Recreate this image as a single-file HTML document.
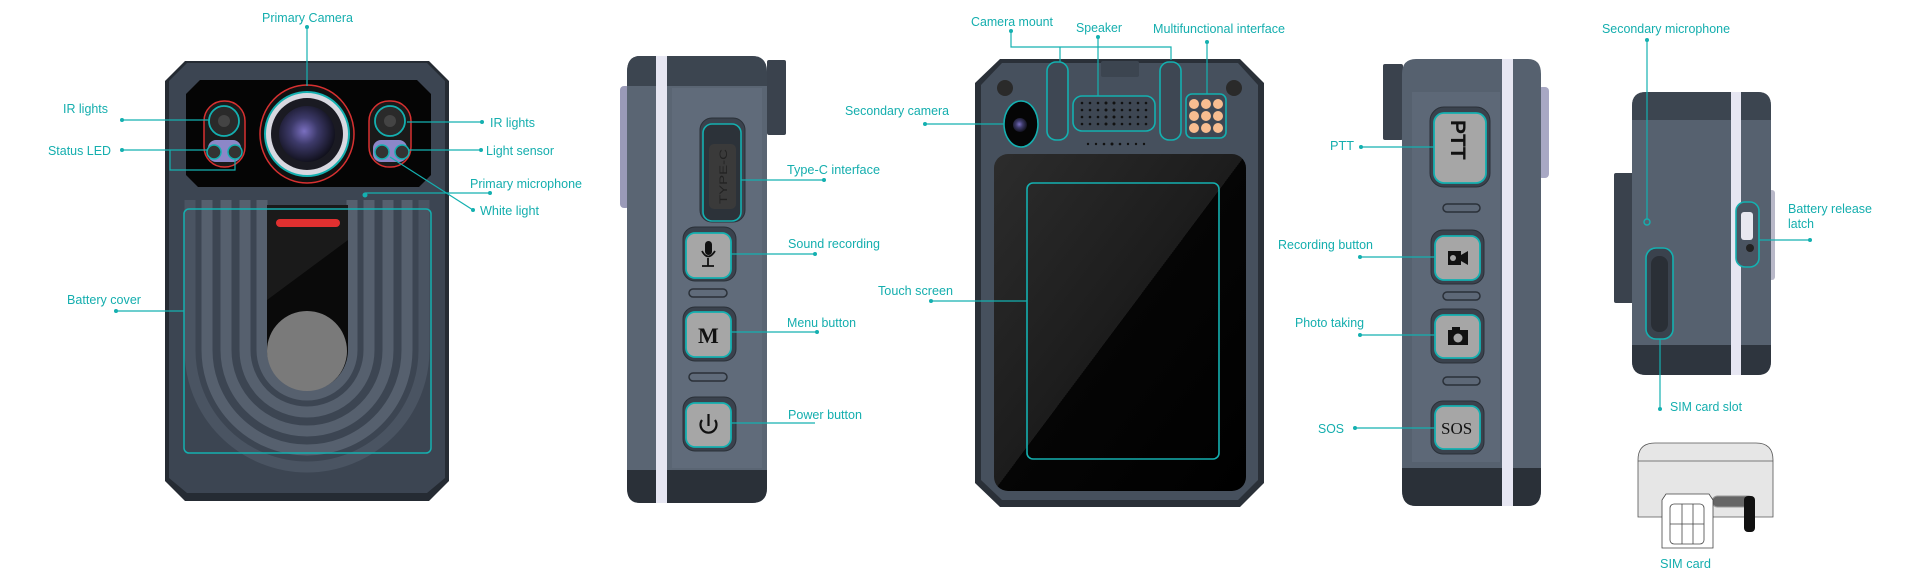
<!DOCTYPE html>
<html><head><meta charset="utf-8"><style>
html,body{margin:0;padding:0;background:#fff;}
svg{display:block}
text{font-family:"Liberation Sans",sans-serif;font-size:13px;fill:#14aeae;}
</style></head><body>
<svg width="1920" height="580" viewBox="0 0 1920 580" xmlns="http://www.w3.org/2000/svg">
<defs>
<linearGradient id="bodyH" x1="0" x2="1" y1="0" y2="0">
<stop offset="0" stop-color="#2e353e"/><stop offset="0.08" stop-color="#4a5461"/><stop offset="0.92" stop-color="#4a5461"/><stop offset="1" stop-color="#2a3038"/></linearGradient>
<linearGradient id="side" x1="0" x2="1"><stop offset="0" stop-color="#3c4550"/><stop offset="0.5" stop-color="#5a6472"/><stop offset="1" stop-color="#3c4550"/></linearGradient>
<radialGradient id="lens" cx="0.45" cy="0.45" r="0.6"><stop offset="0" stop-color="#7a6fc0"/><stop offset="0.4" stop-color="#3d3a6a"/><stop offset="1" stop-color="#0c0c14"/></radialGradient>
<linearGradient id="scr" x1="0" y1="0" x2="1" y2="1"><stop offset="0" stop-color="#2c2c2c"/><stop offset="0.5" stop-color="#1c1c1c"/><stop offset="0.5" stop-color="#050505"/><stop offset="1" stop-color="#000"/></linearGradient>
</defs>
<g stroke="#14b0b0" stroke-width="1.3" fill="none">
</g>

<!-- ========== DEVICE 1 FRONT ========== -->
<path d="M185 61 H429 L449 81 V481 L429 501 H185 L165 481 V81 Z" fill="#252b33"/>
<path d="M187 63 H427 L445 81 V478 L427 493 H187 L169 478 V81 Z" fill="#3c4552"/>
<path d="M200 80 H417 L431 94 V175 L419 187 H198 L186 175 V94 Z" fill="#050505"/>
<!-- U ridges -->
<g fill="none" stroke="#56606e" stroke-width="11">
<path d="M207 200 V350 A100 100 0 0 0 407 350 V200"/>
<path d="M226 200 V350 A81 81 0 0 0 388 350 V200"/>
<path d="M245 200 V350 A62 62 0 0 0 369 350 V200"/>
<path d="M262 200 V350 A45 45 0 0 0 352 350 V200"/>
<path d="M190 200 V350 A117 117 0 0 0 424 350 V200" stroke="#4a5462"/>
</g>
<path d="M267 205 H348 V350 A40 40 0 0 1 267 350 Z" fill="#0a0a0a"/>
<path d="M267 205 H348 V240 L267 300 Z" fill="#1a1a1a"/>
<rect x="276" y="219" width="64" height="8" rx="4" fill="#e03030"/>
<circle cx="307" cy="351" r="40" fill="#7a7a7a"/>
<!-- lights -->
<rect x="204" y="101" width="41" height="66" rx="20" fill="#1a1a1a" stroke="#d83030" stroke-width="1.5"/>
<rect x="208" y="140" width="33" height="22" rx="8" fill="#8c87c8"/>
<circle cx="224" cy="121" r="15" fill="#2a2a2a" stroke="#14b0b0" stroke-width="1.8"/>
<circle cx="224" cy="121" r="6" fill="#444"/>
<circle cx="214" cy="152" r="7" fill="#333" stroke="#14b0b0" stroke-width="1.5"/>
<circle cx="235" cy="152" r="7" fill="#333" stroke="#14b0b0" stroke-width="1.5"/>
<rect x="369" y="101" width="42" height="66" rx="20" fill="#1a1a1a" stroke="#d83030" stroke-width="1.5"/>
<rect x="373" y="140" width="34" height="22" rx="8" fill="#8c87c8"/>
<circle cx="390" cy="121" r="15" fill="#2a2a2a" stroke="#14b0b0" stroke-width="1.8"/>
<circle cx="390" cy="121" r="6" fill="#444"/>
<circle cx="382" cy="152" r="7" fill="#333" stroke="#14b0b0" stroke-width="1.5"/>
<circle cx="402" cy="152" r="7" fill="#333" stroke="#14b0b0" stroke-width="1.5"/>
<ellipse cx="307" cy="134" rx="47" ry="49" fill="#111" stroke="#d83030" stroke-width="1.5"/>
<circle cx="307" cy="134" r="42" fill="#d8d8e0" stroke="#14b0b0" stroke-width="2"/>
<circle cx="307" cy="134" r="36" fill="#1a1a22"/>
<circle cx="307" cy="134" r="28" fill="url(#lens)"/>
<rect x="184" y="209" width="247" height="244" rx="5" fill="none" stroke="#14b0b0" stroke-width="1.5"/>
<!-- device1 labels -->
<g stroke="#14b0b0" stroke-width="1.2" fill="none">
<path d="M307 27 V86"/><path d="M122 120 H209"/><path d="M122 150 H207"/>
<path d="M170 150 V170 H235 V159"/><path d="M407 122 H482"/><path d="M408 150 H481"/>
<path d="M365 193 H490"/><path d="M390 157 L473 210"/><path d="M116 311 H184"/>
</g>
<g fill="#14b0b0"><circle cx="307" cy="27" r="2"/><circle cx="122" cy="120" r="2"/><circle cx="122" cy="150" r="2"/><circle cx="482" cy="122" r="2"/><circle cx="481" cy="150" r="2"/><circle cx="365" cy="195" r="2.5"/><circle cx="490" cy="193" r="2"/><circle cx="473" cy="210" r="2"/><circle cx="116" cy="311" r="2"/></g>
<text x="262" y="22" textLength="91" lengthAdjust="spacingAndGlyphs">Primary Camera</text>
<text x="63" y="113" textLength="45" lengthAdjust="spacingAndGlyphs">IR lights</text>
<text x="48" y="155" textLength="63" lengthAdjust="spacingAndGlyphs">Status LED</text>
<text x="490" y="127" textLength="45" lengthAdjust="spacingAndGlyphs">IR lights</text>
<text x="486" y="155" textLength="68" lengthAdjust="spacingAndGlyphs">Light sensor</text>
<text x="470" y="188" textLength="112" lengthAdjust="spacingAndGlyphs">Primary microphone</text>
<text x="480" y="215" textLength="59" lengthAdjust="spacingAndGlyphs">White light</text>
<text x="67" y="304" textLength="74" lengthAdjust="spacingAndGlyphs">Battery cover</text>

<!-- ========== DEVICE 2 SIDE ========== -->
<rect x="620" y="86" width="10" height="122" rx="4" fill="#9a9ab8"/>
<rect x="767" y="60" width="19" height="75" rx="2" fill="#3a424d"/>
<path d="M640 56 H752 Q767 56 767 72 V488 Q767 503 752 503 H640 Q627 503 627 488 V72 Q627 56 640 56 Z" fill="#5a6573"/>
<rect x="672" y="88" width="90" height="380" fill="#606b7a"/>
<path d="M627 470 H767 V488 Q767 503 752 503 H640 Q627 503 627 488 Z" fill="#2a3038"/>
<path d="M640 56 H752 Q767 56 767 72 V86 H627 V72 Q627 56 640 56 Z" fill="#3c4550"/>
<rect x="656" y="56" width="11" height="447" fill="#e6e6f2"/>
<rect x="700" y="118" width="45" height="104" rx="12" fill="#3a424d" stroke="#2a3038"/>
<rect x="703" y="124" width="38" height="97" rx="9" fill="#2c3239" stroke="#14b0b0" stroke-width="1.6"/>
<rect x="709" y="144" width="27" height="65" rx="5" fill="#3a3a3a"/>
<text x="0" y="0" transform="translate(727 204) rotate(-90)" style="font-size:11px;fill:#222" textLength="55" lengthAdjust="spacingAndGlyphs">TYPE-C</text>
<g>
<rect x="683" y="227" width="53" height="54" rx="12" fill="#3a424d" stroke="#2a3038"/>
<rect x="686" y="233" width="45" height="45" rx="9" fill="#a6a6a6" stroke="#14b0b0" stroke-width="1.8"/>
<rect x="705" y="241" width="7" height="14" rx="3.5" fill="#111"/><path d="M702 251 Q708 262 715 251 M708 258 V266 M702 266 H714" stroke="#111" stroke-width="1.8" fill="none"/>
<rect x="689" y="289" width="38" height="8" rx="4" fill="none" stroke="#2a3038" stroke-width="1.5"/>
<rect x="683" y="307" width="53" height="54" rx="12" fill="#3a424d" stroke="#2a3038"/>
<rect x="686" y="312" width="45" height="45" rx="9" fill="#a6a6a6" stroke="#14b0b0" stroke-width="1.8"/>
<text x="698" y="343" style="font-family:'Liberation Serif',serif;font-size:22px;font-weight:bold;fill:#111">M</text>
<rect x="689" y="373" width="38" height="8" rx="4" fill="none" stroke="#2a3038" stroke-width="1.5"/>
<rect x="683" y="397" width="53" height="54" rx="12" fill="#3a424d" stroke="#2a3038"/>
<rect x="686" y="403" width="45" height="44" rx="9" fill="#a6a6a6" stroke="#14b0b0" stroke-width="1.8"/>
<path d="M702 420 A8 8 0 1 0 715 420" stroke="#111" stroke-width="2.2" fill="none"/><path d="M708.5 414 V426" stroke="#111" stroke-width="2.2"/>
</g>
<g stroke="#14b0b0" stroke-width="1.2" fill="none"><path d="M741 180 H824"/><path d="M731 254 H815"/><path d="M731 332 H817"/><path d="M731 423 H815"/></g>
<g fill="#14b0b0"><circle cx="824" cy="180" r="2"/><circle cx="815" cy="254" r="2"/><circle cx="817" cy="332" r="2"/></g>
<text x="787" y="174" textLength="93" lengthAdjust="spacingAndGlyphs">Type-C interface</text>
<text x="788" y="248" textLength="92" lengthAdjust="spacingAndGlyphs">Sound recording</text>
<text x="787" y="327" textLength="69" lengthAdjust="spacingAndGlyphs">Menu button</text>
<text x="788" y="419" textLength="74" lengthAdjust="spacingAndGlyphs">Power button</text>

<!-- ========== DEVICE 3 BACK ========== -->
<path d="M1000 59 H1240 L1264 83 V483 L1240 507 H1000 L975 483 V83 Z" fill="#2a3038"/>
<path d="M1002 63 H1238 L1258 85 V480 L1238 500 H1002 L981 480 V85 Z" fill="#46505d"/>
<rect x="1101" y="61" width="38" height="16" rx="2" fill="#3c4550"/>
<rect x="994" y="154" width="252" height="337" rx="14" fill="url(#scr)"/>
<rect x="1027" y="183" width="192" height="276" rx="6" fill="none" stroke="#14b0b0" stroke-width="1.6"/>
<circle cx="1005" cy="88" r="8" fill="#2a2a2a"/><circle cx="1234" cy="88" r="8" fill="#2a2a2a"/>
<ellipse cx="1021" cy="124" rx="17" ry="23" fill="#050505" stroke="#14b0b0" stroke-width="1.6"/>
<circle cx="1020" cy="125" r="7" fill="url(#lens)"/>
<rect x="1047" y="62" width="21" height="78" rx="9" fill="#3e4753" stroke="#14b0b0" stroke-width="1.6"/>
<rect x="1160" y="62" width="21" height="78" rx="9" fill="#3e4753" stroke="#14b0b0" stroke-width="1.6"/>
<rect x="1073" y="96" width="82" height="35" rx="9" fill="#3e4753" stroke="#14b0b0" stroke-width="1.6"/>
<g fill="#111">
<circle cx="1082" cy="103" r="1.3"/><circle cx="1090" cy="103" r="1.3"/><circle cx="1098" cy="103" r="1.3"/><circle cx="1106" cy="103" r="1.5"/><circle cx="1114" cy="103" r="1.5"/><circle cx="1122" cy="103" r="1.3"/><circle cx="1130" cy="103" r="1.3"/><circle cx="1138" cy="103" r="1.3"/><circle cx="1146" cy="103" r="1.3"/>
<circle cx="1082" cy="110" r="1.3"/><circle cx="1090" cy="110" r="1.3"/><circle cx="1098" cy="110" r="1.3"/><circle cx="1106" cy="110" r="1.5"/><circle cx="1114" cy="110" r="1.5"/><circle cx="1122" cy="110" r="1.3"/><circle cx="1130" cy="110" r="1.3"/><circle cx="1138" cy="110" r="1.3"/><circle cx="1146" cy="110" r="1.3"/>
<circle cx="1082" cy="117" r="1.3"/><circle cx="1090" cy="117" r="1.3"/><circle cx="1098" cy="117" r="1.3"/><circle cx="1106" cy="117" r="1.5"/><circle cx="1114" cy="117" r="1.5"/><circle cx="1122" cy="117" r="1.3"/><circle cx="1130" cy="117" r="1.3"/><circle cx="1138" cy="117" r="1.3"/><circle cx="1146" cy="117" r="1.3"/>
<circle cx="1082" cy="124" r="1.3"/><circle cx="1090" cy="124" r="1.3"/><circle cx="1098" cy="124" r="1.3"/><circle cx="1106" cy="124" r="1.5"/><circle cx="1114" cy="124" r="1.5"/><circle cx="1122" cy="124" r="1.3"/><circle cx="1130" cy="124" r="1.3"/><circle cx="1138" cy="124" r="1.3"/><circle cx="1146" cy="124" r="1.3"/>
<circle cx="1088" cy="144" r="1.2"/><circle cx="1096" cy="144" r="1.2"/><circle cx="1104" cy="144" r="1.3"/><circle cx="1112" cy="144" r="1.5"/><circle cx="1120" cy="144" r="1.3"/><circle cx="1128" cy="144" r="1.2"/><circle cx="1136" cy="144" r="1.2"/><circle cx="1144" cy="144" r="1.2"/>
</g>
<rect x="1186" y="94" width="40" height="44" rx="6" fill="#3e4753" stroke="#14b0b0" stroke-width="1.6"/>
<g fill="#f8bd90">
<circle cx="1194" cy="104" r="5"/><circle cx="1206" cy="104" r="5"/><circle cx="1218" cy="104" r="5"/>
<circle cx="1194" cy="116" r="5"/><circle cx="1206" cy="116" r="5"/><circle cx="1218" cy="116" r="5"/>
<circle cx="1194" cy="128" r="5"/><circle cx="1206" cy="128" r="5"/><circle cx="1218" cy="128" r="5"/>
</g>
<g stroke="#14b0b0" stroke-width="1.2" fill="none">
<path d="M1011 31 V47 H1171 V60"/><path d="M1060 47 V62"/><path d="M1098 37 V96"/><path d="M1207 42 V94"/>
<path d="M925 124 H1004"/><path d="M931 301 H1027"/>
</g>
<g fill="#14b0b0"><circle cx="1011" cy="31" r="2"/><circle cx="1098" cy="37" r="2"/><circle cx="1207" cy="42" r="2"/><circle cx="925" cy="124" r="2"/><circle cx="931" cy="301" r="2"/></g>
<text x="971" y="26" textLength="82" lengthAdjust="spacingAndGlyphs">Camera mount</text>
<text x="1076" y="32" textLength="46" lengthAdjust="spacingAndGlyphs">Speaker</text>
<text x="1153" y="33" textLength="132" lengthAdjust="spacingAndGlyphs">Multifunctional interface</text>
<text x="845" y="115" textLength="104" lengthAdjust="spacingAndGlyphs">Secondary camera</text>
<text x="878" y="295" textLength="75" lengthAdjust="spacingAndGlyphs">Touch screen</text>

<!-- ========== DEVICE 4 SIDE ========== -->
<rect x="1383" y="64" width="20" height="76" rx="2" fill="#3a424d"/>
<rect x="1538" y="87" width="11" height="91" rx="4" fill="#a8a8c4"/>
<path d="M1416 59 H1528 Q1541 59 1541 74 V490 Q1541 506 1528 506 H1416 Q1402 506 1402 490 V74 Q1402 59 1416 59 Z" fill="#56616f"/>
<rect x="1412" y="92" width="88" height="370" fill="#5d6877"/>
<path d="M1402 468 H1541 V490 Q1541 506 1528 506 H1416 Q1402 506 1402 490 Z" fill="#2a3038"/>
<rect x="1502" y="59" width="11" height="447" fill="#e6e6f2"/>
<rect x="1430" y="107" width="60" height="80" rx="14" fill="#3a424d" stroke="#2a3038"/>
<rect x="1434" y="113" width="52" height="70" rx="10" fill="#a6a6a6" stroke="#14b0b0" stroke-width="1.8"/>
<text x="0" y="0" transform="translate(1451 120) rotate(90)" style="font-size:21px;font-weight:bold;fill:#111">PTT</text>
<rect x="1443" y="204" width="37" height="8" rx="4" fill="none" stroke="#2a3038" stroke-width="1.5"/>
<rect x="1431" y="230" width="53" height="54" rx="12" fill="#3a424d" stroke="#2a3038"/>
<rect x="1435" y="236" width="45" height="44" rx="9" fill="#a6a6a6" stroke="#14b0b0" stroke-width="1.8"/>
<rect x="1448" y="251" width="13" height="14" fill="#111"/><path d="M1461 255 L1468 251 V265 L1461 261 Z" fill="#111"/><circle cx="1453" cy="258" r="3" fill="#a6a6a6"/>
<rect x="1443" y="292" width="37" height="8" rx="4" fill="none" stroke="#2a3038" stroke-width="1.5"/>
<rect x="1431" y="309" width="53" height="54" rx="12" fill="#3a424d" stroke="#2a3038"/>
<rect x="1435" y="315" width="45" height="43" rx="9" fill="#a6a6a6" stroke="#14b0b0" stroke-width="1.8"/>
<rect x="1448" y="330" width="20" height="15" fill="#111"/><rect x="1452" y="327" width="8" height="4" fill="#111"/><circle cx="1458" cy="338" r="4.5" fill="#a6a6a6"/>
<rect x="1443" y="377" width="37" height="8" rx="4" fill="none" stroke="#2a3038" stroke-width="1.5"/>
<rect x="1431" y="401" width="53" height="53" rx="12" fill="#3a424d" stroke="#2a3038"/>
<rect x="1435" y="406" width="45" height="43" rx="9" fill="#a6a6a6" stroke="#14b0b0" stroke-width="1.8"/>
<text x="1441" y="434" style="font-family:'Liberation Serif',serif;font-size:17px;fill:#111">SOS</text>
<g stroke="#14b0b0" stroke-width="1.2" fill="none"><path d="M1361 147 H1434"/><path d="M1360 257 H1435"/><path d="M1360 335 H1435"/><path d="M1355 428 H1435"/></g>
<g fill="#14b0b0"><circle cx="1361" cy="147" r="2"/><circle cx="1360" cy="257" r="2"/><circle cx="1360" cy="335" r="2"/><circle cx="1355" cy="428" r="2"/></g>
<text x="1330" y="150" textLength="24" lengthAdjust="spacingAndGlyphs">PTT</text>
<text x="1278" y="249" textLength="95" lengthAdjust="spacingAndGlyphs">Recording button</text>
<text x="1295" y="327" textLength="69" lengthAdjust="spacingAndGlyphs">Photo taking</text>
<text x="1318" y="433" textLength="26" lengthAdjust="spacingAndGlyphs">SOS</text>

<!-- ========== DEVICE 5 ========== -->
<rect x="1614" y="173" width="20" height="130" rx="2" fill="#3a424d"/>
<rect x="1767" y="190" width="8" height="90" rx="3" fill="#b8b8c8"/>
<path d="M1646 92 H1758 Q1771 92 1771 106 V361 Q1771 375 1758 375 H1646 Q1632 375 1632 361 V106 Q1632 92 1646 92 Z" fill="#56616f"/>
<path d="M1646 92 H1758 Q1771 92 1771 106 V120 H1632 V106 Q1632 92 1646 92 Z" fill="#3c4550"/>
<path d="M1632 345 H1771 V361 Q1771 375 1758 375 H1646 Q1632 375 1632 361 Z" fill="#2e353e"/>
<rect x="1731" y="92" width="10" height="283" fill="#e6e6f2"/>
<rect x="1646" y="248" width="27" height="91" rx="10" fill="#3a424d" stroke="#14b0b0" stroke-width="1.6"/>
<rect x="1651" y="256" width="17" height="76" rx="8" fill="#2a2f36"/>
<rect x="1736" y="202" width="23" height="65" rx="9" fill="#4a5461" stroke="#14b0b0" stroke-width="1.6"/>
<rect x="1741" y="212" width="12" height="28" rx="3" fill="#e8e8f0"/><circle cx="1750" cy="248" r="4" fill="#222"/>
<g stroke="#14b0b0" stroke-width="1.2" fill="none"><path d="M1647 40 V219"/><path d="M1759 240 H1810"/><path d="M1660 339 V409"/></g>
<circle cx="1647" cy="222" r="3" fill="none" stroke="#14b0b0" stroke-width="1.4"/>
<g fill="#14b0b0"><circle cx="1647" cy="40" r="2"/><circle cx="1810" cy="240" r="2"/><circle cx="1660" cy="409" r="2"/></g>
<text x="1602" y="33" textLength="128" lengthAdjust="spacingAndGlyphs">Secondary microphone</text>
<text x="1788" y="213" textLength="84" lengthAdjust="spacingAndGlyphs">Battery release</text>
<text x="1788" y="228" textLength="26" lengthAdjust="spacingAndGlyphs">latch</text>
<text x="1670" y="411" textLength="72" lengthAdjust="spacingAndGlyphs">SIM card slot</text>
<!-- SIM illustration -->
<path d="M1638 517 V460 Q1638 443 1655 443 H1756 Q1773 443 1773 460 V517 Z" fill="#e6e6e6" stroke="#555" stroke-width="0.8"/>
<path d="M1638 461 H1773" stroke="#555" stroke-width="0.8"/>
<rect x="1712" y="496" width="42" height="11" rx="5.5" fill="#666" stroke="#999"/>
<rect x="1744" y="496" width="11" height="36" rx="4" fill="#111"/>
<path d="M1666 494 H1709 L1713 500 V548 H1662 V500 Z" fill="#fff" stroke="#444" stroke-width="0.8"/>
<rect x="1670" y="504" width="34" height="40" rx="4" fill="#fff" stroke="#444" stroke-width="0.8"/>
<path d="M1670 524 H1704 M1682 504 V544 M1693 504 V544" stroke="#444" stroke-width="0.8"/>
<text x="1660" y="568" textLength="51" lengthAdjust="spacingAndGlyphs">SIM card</text>
</svg>
</body></html>
